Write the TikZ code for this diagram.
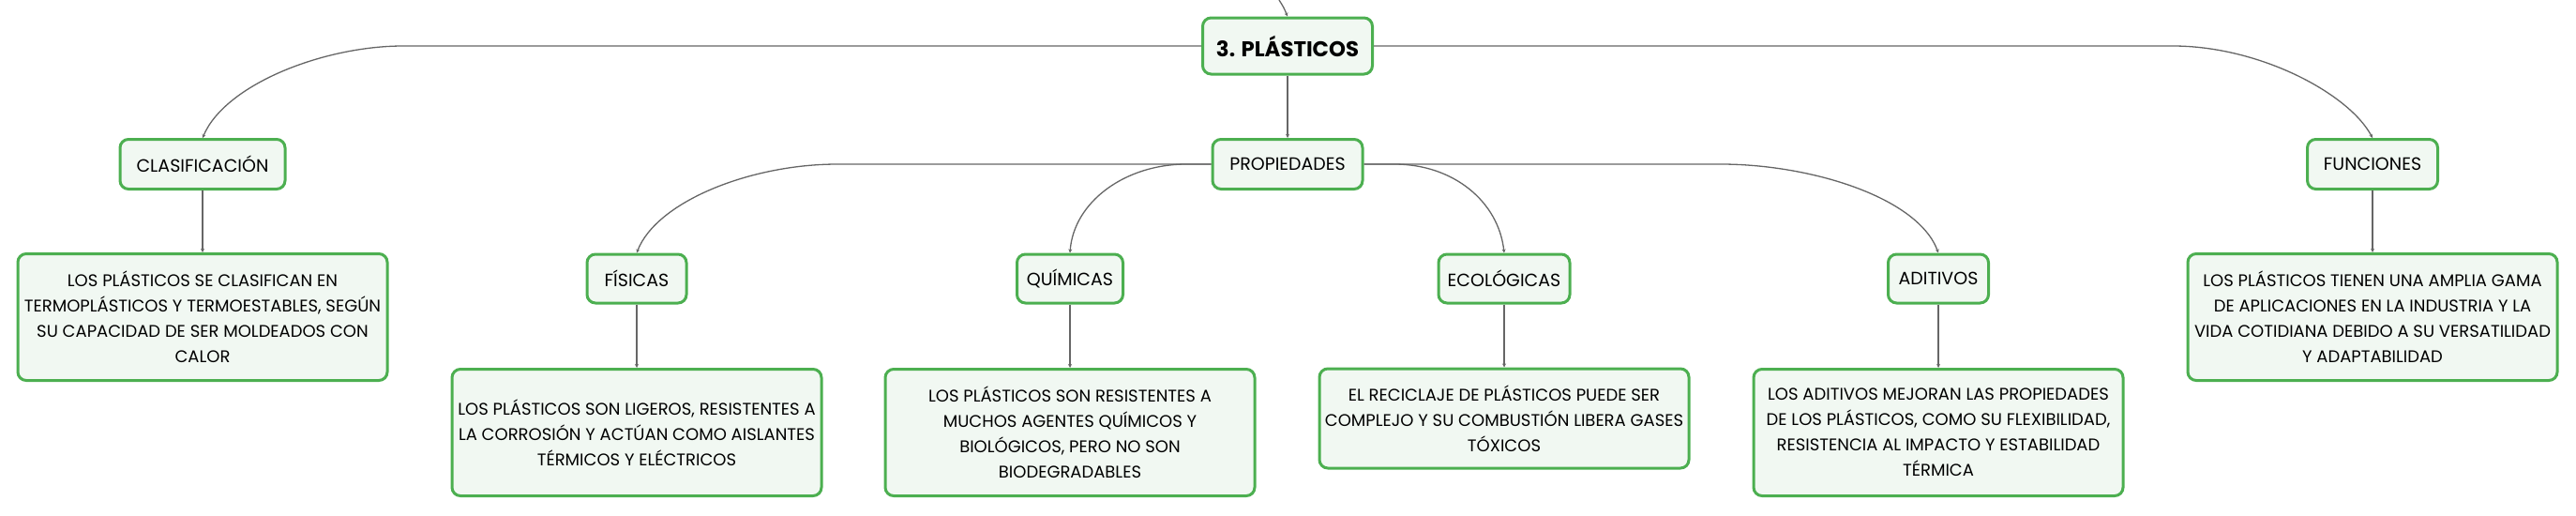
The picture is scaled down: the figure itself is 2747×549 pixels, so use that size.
\documentclass[tikz,border=0pt]{standalone}
\usepackage{fontspec}
\setmainfont{Poppins}
\usetikzlibrary{arrows.meta}
\definecolor{boxgreen}{HTML}{4CAF50}
\definecolor{boxfill}{HTML}{F1F8F2}
\definecolor{linegray}{HTML}{666666}
\tikzset{
  box/.style={draw=boxgreen, fill=boxfill, line width=3pt, rounded corners=9pt,
    inner sep=0pt, align=center, text=black},
  label/.style={box, font=\fontsize{19}{21}\selectfont, minimum height=53pt},
  title/.style={box, font=\fontsize{22.8}{26}\selectfont\bfseries, minimum height=60pt},
  body/.style={box, font=\fontsize{18}{27}\selectfont, minimum width=394pt},
  conn/.style={draw=linegray, line width=1.3pt, -{Stealth[length=4pt,width=4pt]}}
}
\begin{document}
\begin{tikzpicture}[x=1pt,y=-1pt]
\useasboundingbox (0,0) rectangle (2747,549);
% nodes
\node[title, minimum width=181pt] (main) at (1373,49) {3. PLÁSTICOS};
\node[label, minimum width=160pt] (prop) at (1373,175) {PROPIEDADES};
\node[label, minimum width=176pt] (clas) at (216,175) {CLASIFICACIÓN};
\node[label, minimum width=139pt] (fun) at (2530,175) {FUNCIONES};
\node[label, minimum width=106pt, minimum height=52pt] (fis) at (679,297) {FÍSICAS};
\node[label, minimum width=113pt, minimum height=52pt] (qui) at (1141,297) {QUÍMICAS};
\node[label, minimum width=140pt, minimum height=52pt] (eco) at (1604,297) {ECOLÓGICAS};
\node[label, minimum width=107pt, minimum height=52pt] (adi) at (2067,297) {ADITIVOS};
\node[body, minimum height=135pt] (tclas) at (216,338) {LOS PLÁSTICOS SE CLASIFICAN EN\\TERMOPLÁSTICOS Y TERMOESTABLES, SEGÚN\\SU CAPACIDAD DE SER MOLDEADOS CON\\CALOR};
\node[body, minimum height=135pt] (tfun) at (2530,338) {LOS PLÁSTICOS TIENEN UNA AMPLIA GAMA\\DE APLICACIONES EN LA INDUSTRIA Y LA\\VIDA COTIDIANA DEBIDO A SU VERSATILIDAD\\Y ADAPTABILIDAD};
\node[body, minimum height=135pt] (tfis) at (679,461) {LOS PLÁSTICOS SON LIGEROS, RESISTENTES A\\LA CORROSIÓN Y ACTÚAN COMO AISLANTES\\TÉRMICOS Y ELÉCTRICOS};
\node[body, minimum height=135pt] (tqui) at (1141,461) {LOS PLÁSTICOS SON RESISTENTES A\\MUCHOS AGENTES QUÍMICOS Y\\BIOLÓGICOS, PERO NO SON\\BIODEGRADABLES};
\node[body, minimum height=106pt] (teco) at (1604,446) {EL RECICLAJE DE PLÁSTICOS PUEDE SER\\COMPLEJO Y SU COMBUSTIÓN LIBERA GASES\\TÓXICOS};
\node[body, minimum height=135pt] (tadi) at (2067,461) {LOS ADITIVOS MEJORAN LAS PROPIEDADES\\DE LOS PLÁSTICOS, COMO SU FLEXIBILIDAD,\\RESISTENCIA AL IMPACTO Y ESTABILIDAD\\TÉRMICA};
% free end above
\coordinate (top) at (1364,0);
% connectors
\draw[conn] (top) .. controls (1369,8) .. (main.north);
\draw[conn] (main.south) -- (prop.north);
\draw[conn] (main.west) -- (430,49) .. controls (345,49) and (240,90) .. (clas.north);
\draw[conn] (main.east) -- (2317,49) .. controls (2410,49) and (2505,100) .. (fun.north);
\draw[conn] (prop.west) -- (893,175) .. controls (800,175) and (700,215) .. (fis.north);
\draw[conn] (prop.west) -- (1265,175) .. controls (1200,175) and (1145,215) .. (qui.north);
\draw[conn] (prop.east) -- (1487,175) .. controls (1550,175) and (1598,215) .. (eco.north);
\draw[conn] (prop.east) -- (1835,175) .. controls (1930,175) and (2045,210) .. (adi.north);
\draw[conn] (clas.south) -- (tclas.north);
\draw[conn] (fun.south) -- (tfun.north);
\draw[conn] (fis.south) -- (tfis.north);
\draw[conn] (qui.south) -- (tqui.north);
\draw[conn] (eco.south) -- (teco.north);
\draw[conn] (adi.south) -- (tadi.north);
\end{tikzpicture}
\end{document}
